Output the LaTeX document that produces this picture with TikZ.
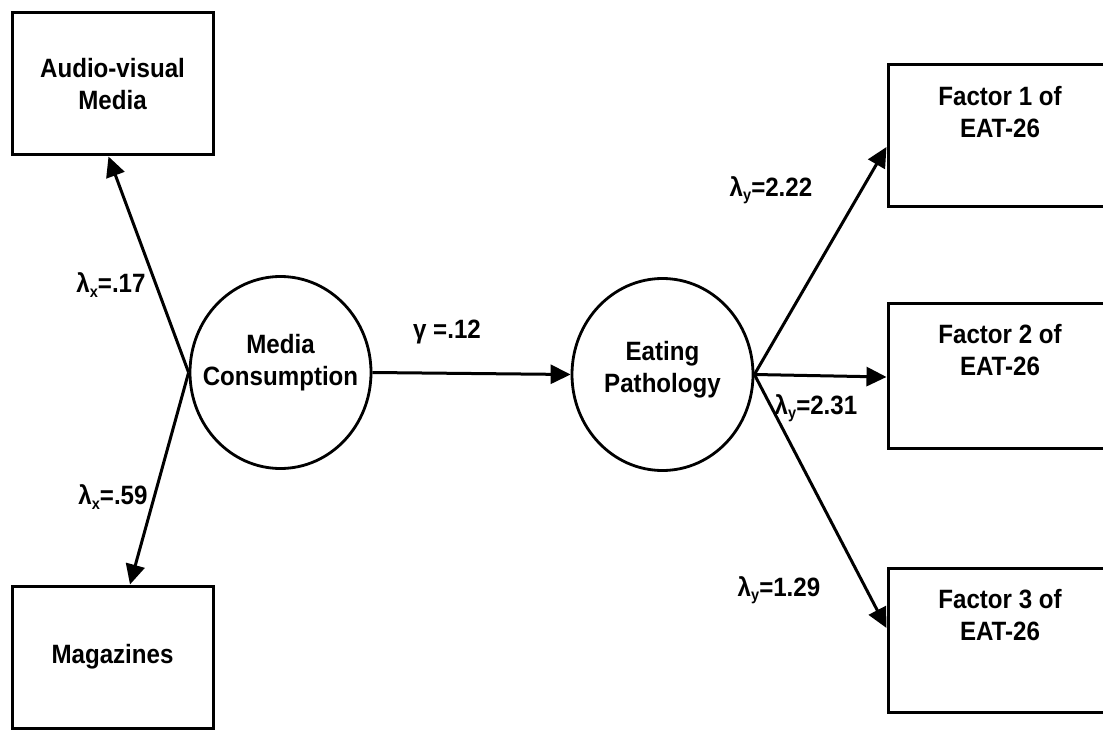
\documentclass[tikz,border=0pt]{standalone}
\usepackage{fontspec}
\setmainfont{Liberation Sans}
\newfontfamily\heavy{Liberation Sans}[BoldFeatures={FakeStretch=0.91}]
\usetikzlibrary{arrows.meta,shapes.geometric}
\newcommand{\lsub}[1]{\raisebox{-0.3ex}{\fontsize{16}{16}\selectfont #1}}
\begin{document}
\begin{tikzpicture}[x=1pt,y=-1pt,
  box/.style={draw, line width=3pt, rectangle, inner sep=0pt},
  latent/.style={draw, ellipse, line width=2.8pt, minimum width=181pt, minimum height=192pt, inner sep=0pt},
  txt/.style={font=\heavy\bfseries\fontsize{26.5}{32}\selectfont, align=center, inner sep=0pt},
  conn/.style={line width=3pt, -{Triangle[length=20pt,width=19pt]}},
  lab/.style={font=\heavy\bfseries\fontsize{26.5}{32}\selectfont, inner sep=0pt}]
\useasboundingbox (0,0) rectangle (1103,730);
\clip (0,0) rectangle (1103,730);
\node[box, txt, minimum width=201pt, minimum height=142pt] (av) at (112.5,84) {Audio-visual\\Media};
\node[box, txt, minimum width=201pt, minimum height=142pt] (mag) at (112.5,657) {Magazines};
\node[latent] (mc) at (280.5,372.5) {};
\node[txt] (mct) at (280.5,363) {Media\\Consumption};
\node[latent] (ep) at (662.5,374.5) {};
\node[txt] (ept) at (662.5,370) {Eating\\Pathology};
\node[box, minimum width=224pt, minimum height=142pt] (f1) at (1000,136) {};
\node[txt] (f1t) at (1000,112) {Factor 1 of\\EAT-26};
\node[box, minimum width=224pt, minimum height=145pt] (f2) at (1000,375.5) {};
\node[txt] (f2t) at (1000,350.5) {Factor 2 of\\EAT-26};
\node[box, minimum width=224pt, minimum height=144pt] (f3) at (1000,640) {};
\node[txt] (f3t) at (1000,615) {Factor 3 of\\EAT-26};
\draw[conn] (mc.west) -- ([xshift=-4pt]av.south);
\draw[conn] (mc.west) -- ([xshift=17.5pt]mag.north);
\draw[conn] (mc.east) -- (ep.west);
\draw[conn] (ep.east) -- ([yshift=-11pt]f1.west);
\draw[conn] (ep.east) -- ([yshift=-1.5pt]f2.west);
\draw[conn] (ep.east) -- ([yshift=12pt]f3.west);
\node[lab] (l1) at (111,285) {λ\lsub{x}=.17};
\node[lab] (l2) at (113,497) {λ\lsub{x}=.59};
\node[lab] (g) at (447,332) {γ =.12};
\node[lab] (l3) at (771,190) {λ\lsub{y}=2.22};
\node[lab] (l4) at (816,408) {λ\lsub{y}=2.31};
\node[lab] (l5) at (779,590) {λ\lsub{y}=1.29};
\end{tikzpicture}
\end{document}
